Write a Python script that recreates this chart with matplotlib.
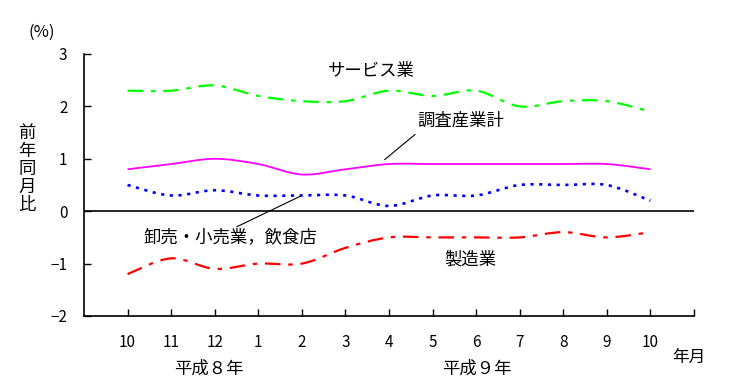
import matplotlib
matplotlib.use("Agg")
import matplotlib.pyplot as plt
from matplotlib.path import Path
from matplotlib.patches import PathPatch
import numpy as np

plt.rcParams['font.family'] = ['Noto Sans CJK JP', 'DejaVu Sans']

months = ["10", "11", "12", "1", "2", "3", "4", "5", "6", "7", "8", "9", "10"]
service = [2.3, 2.3, 2.4, 2.2, 2.1, 2.1, 2.3, 2.2, 2.3, 2.0, 2.1, 2.1, 1.9]
total = [0.8, 0.9, 1.0, 0.9, 0.7, 0.8, 0.9, 0.9, 0.9, 0.9, 0.9, 0.9, 0.8]
wholesale = [0.5, 0.3, 0.4, 0.3, 0.3, 0.3, 0.1, 0.3, 0.3, 0.5, 0.5, 0.5, 0.2]
manufacturing = [-1.2, -0.9, -1.1, -1.0, -1.0, -0.7, -0.5, -0.5, -0.5, -0.5, -0.4, -0.5, -0.4]


def smooth_path(xs, ys, t=1/6):
    xs = np.asarray(xs, float)
    ys = np.asarray(ys, float)
    n = len(xs)
    verts = [(xs[0], ys[0])]
    codes = [Path.MOVETO]
    for i in range(n - 1):
        p0 = (xs[max(i - 1, 0)], ys[max(i - 1, 0)])
        p1 = (xs[i], ys[i])
        p2 = (xs[i + 1], ys[i + 1])
        p3 = (xs[min(i + 2, n - 1)], ys[min(i + 2, n - 1)])
        c1 = (p1[0] + (p2[0] - p0[0]) * t, p1[1] + (p2[1] - p0[1]) * t)
        c2 = (p2[0] - (p3[0] - p1[0]) * t, p2[1] - (p3[1] - p1[1]) * t)
        verts += [c1, c2, p2]
        codes += [Path.CURVE4] * 3
    return Path(verts, codes)


fig = plt.figure(figsize=(7.29, 3.92), dpi=100)
ax = fig.add_axes([84 / 729, 1 - 316 / 392, (694 - 84) / 729, (316 - 54) / 392])

x = np.arange(len(months))

series = [
    (service, '#00FF00', 1.6, (0, (7, 3.5, 2, 3.5))),
    (total, '#FF00FF', 1.3, 'solid'),
    (wholesale, '#0000FF', 1.9, (0, (1.2, 2.1))),
    (manufacturing, '#FF0000', 1.6, (0, (7, 3.5, 2, 3.5))),
]
for vals, col, lw, ls in series:
    ax.add_patch(PathPatch(smooth_path(x, vals), facecolor='none', edgecolor=col,
                           lw=lw, linestyle=ls, capstyle='butt'))

ax.axhline(0, color='black', lw=1.2)

ax.set_xlim(-1, 13)
ax.set_ylim(-2, 3)
ax.set_xticks(np.arange(0, 14))
ax.set_xticklabels(months + [""])
ax.set_yticks([-2, -1, 0, 1, 2, 3])
ax.set_yticklabels(["\u22122", "\u22121", "0", "1", "2", "3"])
ax.tick_params(axis='x', direction='in', length=5, width=1, pad=13, labelsize=11)
ax.tick_params(axis='y', direction='in', length=5, width=1, pad=12, labelsize=11)
for s in ['top', 'right']:
    ax.spines[s].set_visible(False)
for s in ['left', 'bottom']:
    ax.spines[s].set_linewidth(1.2)

# labels
fs = 12.5
ax.text(5.6, 2.67, "サービス業", fontsize=fs, ha='center', va='center')
ax.text(7.65, 1.73, "調査産業計", fontsize=fs, ha='center', va='center')
ax.text(2.35, -0.5, "卸売・小売業，飲食店", fontsize=fs, ha='center', va='center')
ax.text(7.86, -0.92, "製造業", fontsize=fs, ha='center', va='center')

ax.annotate("", xy=(5.85, 0.95), xytext=(6.65, 1.5),
            arrowprops=dict(arrowstyle='-', color='black', lw=0.8))
ax.annotate("", xy=(4.05, 0.32), xytext=(2.45, -0.32),
            arrowprops=dict(arrowstyle='-', color='black', lw=0.8))

fig.text(42 / 729, 1 - 32 / 392, "(%)", fontsize=12, ha='center', va='center')
fig.text(27 / 729, 1 - 169 / 392, "\n".join("前年同月比"), fontsize=12.5,
         ha='center', va='center', linespacing=1.0)
fig.text(209 / 729, 1 - 369 / 392, "平成８年", fontsize=fs, ha='center', va='center')
fig.text(477 / 729, 1 - 369 / 392, "平成９年", fontsize=fs, ha='center', va='center')
fig.text(689 / 729, 1 - 357 / 392, "年月", fontsize=12, ha='center', va='center')

fig.savefig("out.png", dpi=100)
